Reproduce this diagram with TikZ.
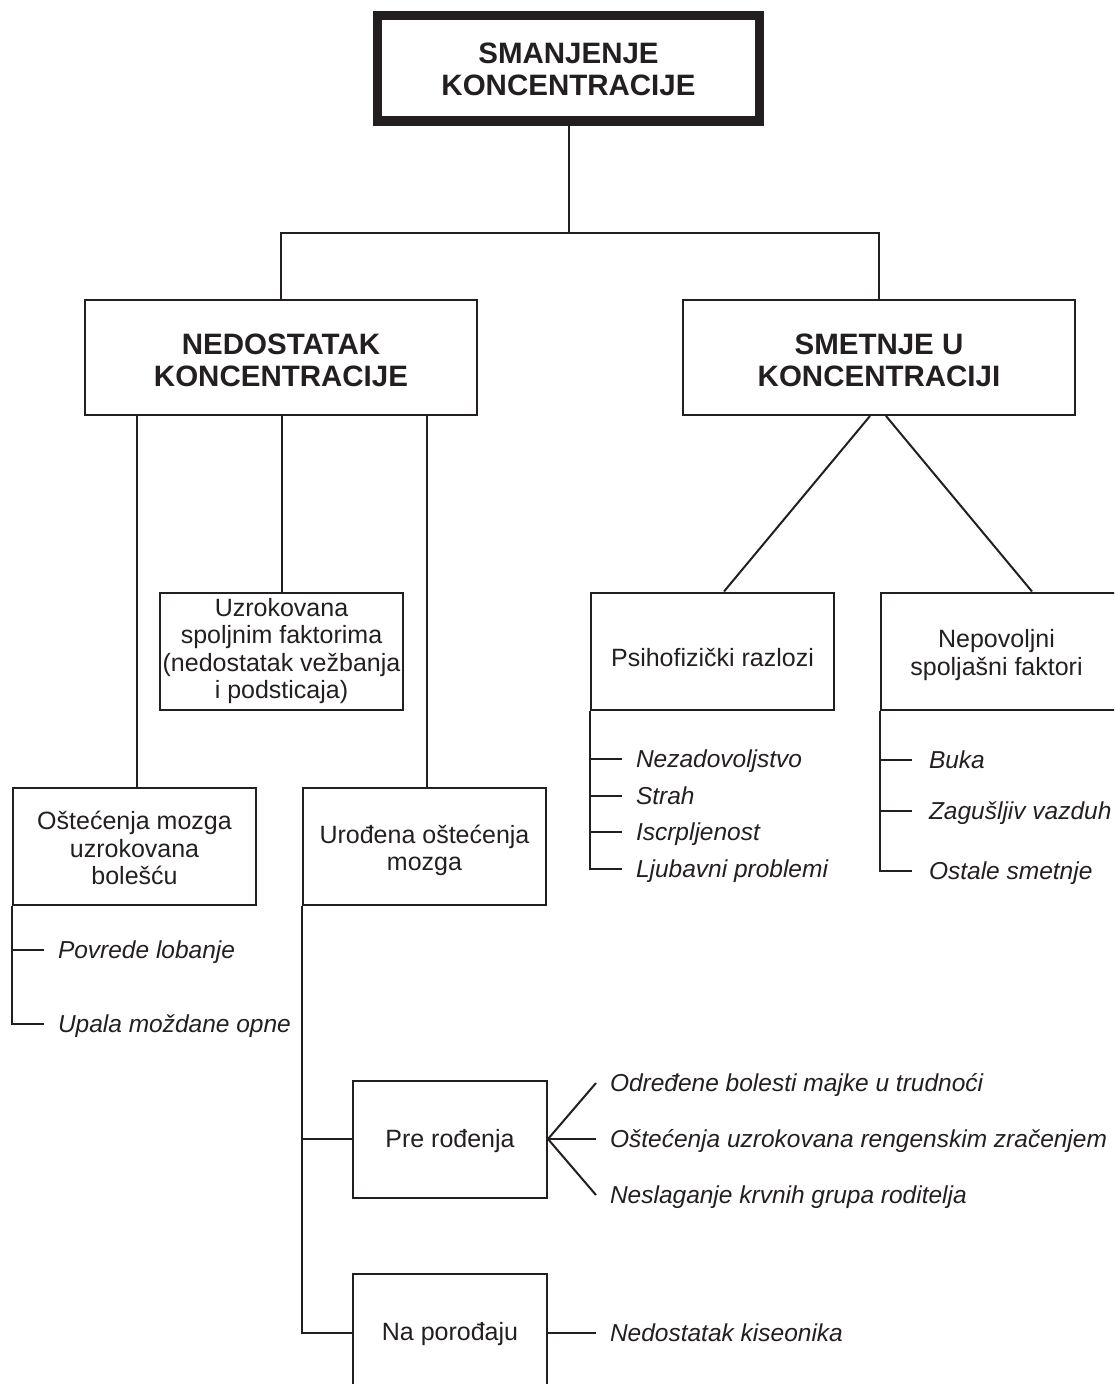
\documentclass[tikz,border=0pt]{standalone}
\usepackage{fontspec}
\setmainfont{Liberation Sans}
\definecolor{ink}{HTML}{231F20}
\newcommand\mlines[1]{\begin{tabular}[b]{@{}c@{}}#1\end{tabular}}
\begin{document}
\begin{tikzpicture}[x=1pt,y=-1pt,line width=2pt,draw=ink,text=ink,
  box/.style={draw,rectangle,minimum width=243pt,minimum height=117pt,inner sep=0pt,text depth=0pt,font=\fontsize{25}{27.2}\selectfont},
  smallbox/.style={box,minimum width=194pt,minimum height=117pt},
  bigbox/.style={draw,rectangle,minimum width=392pt,minimum height=115pt,inner sep=0pt,text depth=0pt,font=\bfseries\fontsize{29.5}{32.2}\selectfont},
  topbox/.style={bigbox,line width=9pt,minimum width=382pt,minimum height=106pt},
  item/.style={anchor=west,inner xsep=13pt,inner ysep=0pt,text height=17.5pt,text depth=0.5pt,font=\itshape\fontsize{24.5}{27}\selectfont},
]
\useasboundingbox (0,0) rectangle (1114,1384);
\clip (0,0) rectangle (1114,1384);

% boxes
\node[topbox,text height=54.4pt] (top) at (568.5,68.5) {\mlines{SMANJENJE\\KONCENTRACIJE}};
\draw[line width=1.2pt] ([shift={(8,8)}]top.north west) rectangle ([shift={(-7.5,-9.5)}]top.south east);

\node[bigbox,text height=58.4pt] (nedo) at (281,357.5) {\mlines{NEDOSTATAK\\KONCENTRACIJE}};
\node[bigbox,text height=58.4pt] (smet) at (879,357.5) {\mlines{SMETNJE U\\KONCENTRACIJI}};

\node[box,text height=94.6pt] (uzr) at (281.5,651) {\mlines{Uzrokovana\\spoljnim faktorima\\(nedostatak vežbanja\\i podsticaja)}};
\node[box,text height=75.6pt] (osm) at (134.5,846.5) {\mlines{Oštećenja mozga\\uzrokovana\\bolešću}};
\node[box,text height=48.4pt] (uro) at (424.5,846.5) {\mlines{Urođena oštećenja\\mozga}};
\node[box,text height=31.4pt] (psi) at (712.5,651) {Psihofizički razlozi};
\node[box,text height=48pt] (nep) at (1002.5,651) {\mlines{Nepovoljni\\spoljašni faktori}\hspace*{12pt}};
\node[smallbox,text height=17.4pt] (pre) at (450,1139) {Pre rođenja};
\node[smallbox,text height=16pt] (nap) at (450,1332.5) {Na porođaju};

% list items
\node[item] (p1) at (622,759) {Nezadovoljstvo};
\node[item] (p2) at (622,796) {Strah};
\node[item] (p3) at (622,832) {Iscrpljenost};
\node[item] (p4) at (622,869) {Ljubavni problemi};

\node[item,inner xsep=16pt] (q1) at (912,760) {Buka};
\node[item,inner xsep=16pt] (q2) at (912,811) {Zagušljiv vazduh};
\node[item,inner xsep=16pt] (q3) at (912,871) {Ostale smetnje};

\node[item] (o1) at (44,950) {Povrede lobanje};
\node[item] (o2) at (44,1024) {Upala moždane opne};

\node[item] (r1) at (596,1083) {Određene bolesti majke u trudnoći};
\node[item] (r2) at (596,1139) {Oštećenja uzrokovana rengenskim zračenjem};
\node[item] (r3) at (596,1195) {Neslaganje krvnih grupa roditelja};
\node[item] (n1) at (596,1332.5) {Nedostatak kiseonika};

% connectors
\coordinate (jy) at (0,233);
\draw (top.south) -- (top.south |- jy);
\draw (nedo.north) -- (nedo.north |- jy) -| (smet.north);

\draw ([xshift=2.5pt]osm.north |- nedo.south) -- ([xshift=2.5pt]osm.north);
\draw (uzr.north |- nedo.south) -- (uzr.north);
\draw ([xshift=2.5pt]uro.north |- nedo.south) -- ([xshift=2.5pt]uro.north);

\draw ([xshift=-9pt]smet.south) -- ([xshift=11.5pt]psi.north);
\draw ([xshift=7pt]smet.south) -- ([xshift=29.5pt]nep.north);

\draw (psi.south west) |- (p4.west);
\draw (p1.west -| psi.south west) -- (p1.west);
\draw (p2.west -| psi.south west) -- (p2.west);
\draw (p3.west -| psi.south west) -- (p3.west);

\draw (nep.south west) |- (q3.west);
\draw (q1.west -| nep.south west) -- (q1.west);
\draw (q2.west -| nep.south west) -- (q2.west);

\draw (osm.south west) |- (o2.west);
\draw (o1.west -| osm.south west) -- (o1.west);

\draw (uro.south west) |- (nap.west);
\draw (pre.west -| uro.south west) -- (pre.west);

\draw (pre.east) -- (r1.west);
\draw (pre.east) -- (r2.west);
\draw (pre.east) -- (r3.west);
\draw (nap.east) -- (n1.west);
\end{tikzpicture}
\end{document}
